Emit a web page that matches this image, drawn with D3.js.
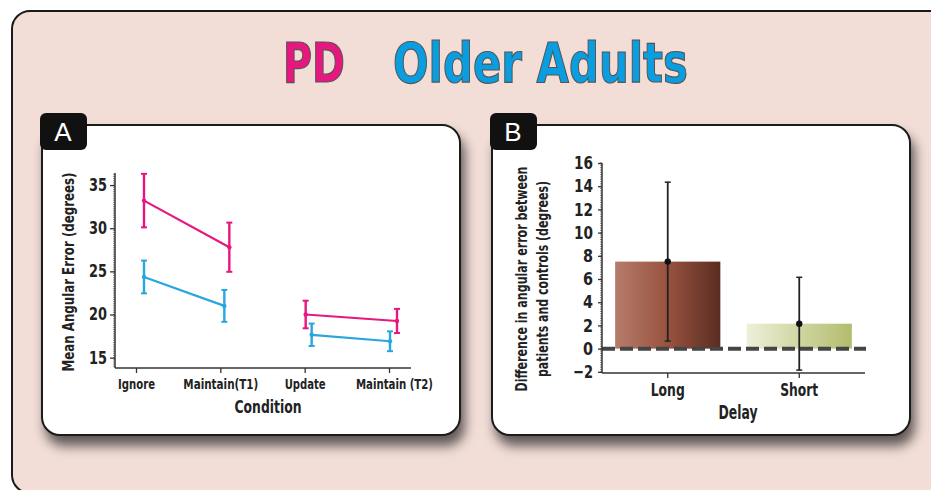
<!DOCTYPE html>
<html>
<head>
<meta charset="utf-8">
<script src="https://cdn.jsdelivr.net/npm/d3@7"></script>
<style>
  body { margin: 0; background: #fff; }
  text { font-family: "Liberation Sans Narrow", "DejaVu Sans Condensed", sans-serif; font-weight: bold; fill: #222; }
</style>
</head>
<body>
<script>
// panel A data
var conditions = ["Ignore", "Maintain(T1)", "Update", "Maintain (T2)"];
var pdMeans = [33.2, 27.8, 20.0, 19.25];
var pdErr = [3.1, 2.85, 1.6, 1.4];
var olderMeans = [24.35, 21.0, 17.65, 16.9];
var olderErr = [1.9, 1.85, 1.3, 1.15];
var yTicksA = [15, 20, 25, 30, 35];

// panel B data
var delays = ["Long", "Short"];
var diffMeans = [7.5, 2.15];
var diffErr = [6.85, 4.0];
var yTicksB = [-2, 0, 2, 4, 6, 8, 10, 12, 14, 16];

var pink = "#e6177f", blue = "#2aa6df";
var width = 931, height = 490;

// rendered widths of the labels in the original (condensed font)
var labelW = {"Ignore": 37, "Maintain(T1)": 75, "Update": 41, "Maintain (T2)": 77, "Long": 34, "Short": 38};

var svg = d3.select("body").append("svg")
    .attr("width", width)
    .attr("height", height);

var defs = svg.append("defs");
var shadow = defs.append("filter").attr("id", "shadow")
    .attr("x", "-10%").attr("y", "-10%").attr("width", "130%").attr("height", "140%");
shadow.append("feDropShadow")
    .attr("dx", 4).attr("dy", 10).attr("stdDeviation", 6)
    .attr("flood-color", "#000").attr("flood-opacity", 0.6);

var gLong = defs.append("linearGradient").attr("id", "gLong");
gLong.append("stop").attr("offset", "0%").attr("stop-color", "#b67c6b");
gLong.append("stop").attr("offset", "50%").attr("stop-color", "#98523f");
gLong.append("stop").attr("offset", "100%").attr("stop-color", "#5a2d21");
var gShort = defs.append("linearGradient").attr("id", "gShort");
gShort.append("stop").attr("offset", "0%").attr("stop-color", "#eef0d9");
gShort.append("stop").attr("offset", "100%").attr("stop-color", "#b3bc6c");

//outer frame
svg.append("rect")
    .attr("x", 12).attr("y", 11).attr("width", 940).attr("height", 482)
    .attr("rx", 18)
    .style("fill", "#f2ddd7")
    .style("stroke", "#1a1a1a")
    .style("stroke-width", 2);

//title
var title = svg.append("g");
title.append("text").attr("x", 283).attr("y", 82)
    .attr("textLength", 62).attr("lengthAdjust", "spacingAndGlyphs")
    .style("font-size", "56px").style("fill", pink)
    .style("stroke", "#555").style("stroke-width", 1.2)
    .text("PD");
title.append("text").attr("x", 393).attr("y", 82)
    .attr("textLength", 295).attr("lengthAdjust", "spacingAndGlyphs")
    .style("font-size", "56px").style("fill", "#0a9ee0")
    .style("stroke", "#555").style("stroke-width", 1.2)
    .text("Older Adults");

function panel(x0, letter){
    svg.append("rect")
        .attr("x", x0).attr("y", 125).attr("width", 418).attr("height", 310)
        .attr("rx", 18)
        .style("fill", "#fff")
        .style("stroke", "#1a1a1a")
        .style("stroke-width", 2)
        .attr("filter", "url(#shadow)");
    svg.append("rect")
        .attr("x", x0 - 2).attr("y", 113).attr("width", 47).attr("height", 37)
        .attr("rx", 6)
        .style("fill", "#111");
    svg.append("text")
        .attr("x", x0 + 21).attr("y", 141)
        .attr("text-anchor", "middle")
        .style("font-family", "'Liberation Sans', sans-serif")
        .style("font-weight", "normal")
        .style("font-size", "26px")
        .style("fill", "#fff")
        .text(letter);
}
panel(42, "A");
panel(492, "B");

// ---------- panel A ----------
var xA = d3.scalePoint().domain(conditions).range([136, 389]);
var yA = d3.scaleLinear().domain([13.8, 36.4]).range([368, 173]);

var gA = svg.append("g");
// minor ticks
gA.selectAll("line.minor")
    .data(d3.range(14, 36.3, 0.25))
    .enter().append("line")
    .attr("x1", 113).attr("x2", 115)
    .attr("y1", d => yA(d)).attr("y2", d => yA(d))
    .style("stroke", "#555").style("stroke-width", 0.7);

var axA = gA.append("g").attr("transform", "translate(115,0)")
    .call(d3.axisLeft(yA).tickValues(yTicksA).tickSize(5).tickSizeOuter(0).tickPadding(3));
axA.selectAll("text").style("font-size", "17px").style("font-family", null)
    .attr("textLength", 18).attr("lengthAdjust", "spacingAndGlyphs");
var axAx = gA.append("g").attr("transform", "translate(0,368)")
    .call(d3.axisBottom(xA).tickSize(5).tickSizeOuter(0).tickPadding(6));
axAx.selectAll("text").style("font-size", "14px").style("font-family", null)
    .attr("textLength", d => labelW[d]).attr("lengthAdjust", "spacingAndGlyphs");
axAx.selectAll(".tick text").filter(d => d == "Maintain (T2)").attr("x", 5);
gA.selectAll(".domain").remove();
gA.selectAll(".tick line").style("stroke", "#333").style("stroke-width", 1.3);
gA.append("line").attr("x1", 115).attr("x2", 115).attr("y1", 173).attr("y2", 368)
    .style("stroke", "#333").style("stroke-width", 1.5);
gA.append("line").attr("x1", 115).attr("x2", 411).attr("y1", 368).attr("y2", 368)
    .style("stroke", "#333").style("stroke-width", 1.5);

gA.append("text")
    .attr("transform", "translate(74,272) rotate(-90)")
    .attr("text-anchor", "middle")
    .attr("textLength", 199).attr("lengthAdjust", "spacingAndGlyphs")
    .style("font-size", "16px")
    .text("Mean Angular Error (degrees)");
gA.append("text")
    .attr("x", 268).attr("y", 413)
    .attr("text-anchor", "middle")
    .attr("textLength", 67).attr("lengthAdjust", "spacingAndGlyphs")
    .style("font-size", "18px")
    .text("Condition");

// small horizontal offsets of the points as in the original figure
var jitter = {pd: [8, 9, 1, 8], older: [8, 4, 7, 1]};

function series(means, errs, color, key){
    var pts = means.map((m, i) => ({x: xA(conditions[i]) + jitter[key][i], y: m, e: errs[i]}));
    var line = d3.line().x(d => d.x).y(d => yA(d.y));
    [pts.slice(0, 2), pts.slice(2, 4)].forEach(seg => {
        gA.append("path").attr("d", line(seg))
            .style("fill", "none").style("stroke", color).style("stroke-width", 2.2);
    });
    var eb = gA.selectAll("g.eb-" + key).data(pts).enter().append("g");
    eb.append("line")
        .attr("x1", d => d.x).attr("x2", d => d.x)
        .attr("y1", d => yA(d.y + d.e)).attr("y2", d => yA(d.y - d.e))
        .style("stroke", color).style("stroke-width", 2.4);
    [1, -1].forEach(s => {
        eb.append("line")
            .attr("x1", d => d.x - 3).attr("x2", d => d.x + 3)
            .attr("y1", d => yA(d.y + s * d.e)).attr("y2", d => yA(d.y + s * d.e))
            .style("stroke", color).style("stroke-width", 2);
    });
    eb.append("circle")
        .attr("cx", d => d.x).attr("cy", d => yA(d.y)).attr("r", 2.2)
        .style("fill", color);
}
series(pdMeans, pdErr, pink, "pd");
series(olderMeans, olderErr, blue, "older");

// ---------- panel B ----------
var xB = d3.scaleBand().domain(delays).range([602, 865]).paddingInner(0.2).paddingOuter(0.1);
var yB = d3.scaleLinear().domain([-2.1, 16]).range([373, 163]);
var gB = svg.append("g");

gB.selectAll("line.minor")
    .data(d3.range(-2, 16.01, 0.2))
    .enter().append("line")
    .attr("x1", 600).attr("x2", 602)
    .attr("y1", d => yB(d)).attr("y2", d => yB(d))
    .style("stroke", "#555").style("stroke-width", 0.7);

gB.selectAll("rect.bar")
    .data(delays)
    .enter().append("rect")
    .attr("x", d => xB(d))
    .attr("width", xB.bandwidth())
    .attr("y", (d, i) => yB(diffMeans[i]))
    .attr("height", (d, i) => yB(0) - yB(diffMeans[i]))
    .style("fill", (d, i) => i == 0 ? "url(#gLong)" : "url(#gShort)");

gB.append("line")
    .attr("x1", 602).attr("x2", 866)
    .attr("y1", yB(0)).attr("y2", yB(0))
    .style("stroke", "#454545").style("stroke-width", 4)
    .style("stroke-dasharray", "13,5");

var axB = gB.append("g").attr("transform", "translate(602,0)")
    .call(d3.axisLeft(yB).tickValues(yTicksB).tickSize(4).tickSizeOuter(0).tickPadding(5)
        .tickFormat(d => d < 0 ? "\u2212" + Math.abs(d) : d));
axB.selectAll("text").style("font-size", "18px").style("font-family", null)
    .attr("textLength", d => Math.abs(d) >= 10 ? 19 : (d < 0 ? 20 : 10))
    .attr("lengthAdjust", "spacingAndGlyphs");
var axBx = gB.append("g").attr("transform", "translate(0,373)")
    .call(d3.axisBottom(xB).tickSize(5).tickSizeOuter(0).tickPadding(5));
axBx.selectAll("text").style("font-size", "18px").style("font-family", null)
    .attr("textLength", d => labelW[d]).attr("lengthAdjust", "spacingAndGlyphs");
gB.selectAll(".domain").remove();
gB.selectAll(".tick line").style("stroke", "#333").style("stroke-width", 1.3);
gB.append("line").attr("x1", 602).attr("x2", 602).attr("y1", 163).attr("y2", 373)
    .style("stroke", "#333").style("stroke-width", 1.5);
gB.append("line").attr("x1", 602).attr("x2", 865).attr("y1", 373).attr("y2", 373)
    .style("stroke", "#333").style("stroke-width", 1.5);

// error bars
var ebB = gB.selectAll("g.ebB").data(delays).enter().append("g");
var cx = d => xB(d) + xB.bandwidth() / 2;
ebB.append("line")
    .attr("x1", cx).attr("x2", cx)
    .attr("y1", (d, i) => yB(diffMeans[i] + diffErr[i]))
    .attr("y2", (d, i) => yB(diffMeans[i] - diffErr[i]))
    .style("stroke", "#222").style("stroke-width", 1.8);
[1, -1].forEach(s => {
    ebB.append("line")
        .attr("x1", d => cx(d) - 3).attr("x2", d => cx(d) + 3)
        .attr("y1", (d, i) => yB(diffMeans[i] + s * diffErr[i]))
        .attr("y2", (d, i) => yB(diffMeans[i] + s * diffErr[i]))
        .style("stroke", "#222").style("stroke-width", 1.5);
});
ebB.append("circle")
    .attr("cx", cx).attr("cy", (d, i) => yB(diffMeans[i])).attr("r", 3.2)
    .style("fill", "#111");

gB.append("text")
    .attr("transform", "translate(527,279) rotate(-90)")
    .attr("text-anchor", "middle")
    .attr("textLength", 225).attr("lengthAdjust", "spacingAndGlyphs")
    .style("font-size", "15px")
    .text("Difference in angular error between");
gB.append("text")
    .attr("transform", "translate(548,279) rotate(-90)")
    .attr("text-anchor", "middle")
    .attr("textLength", 196).attr("lengthAdjust", "spacingAndGlyphs")
    .style("font-size", "15px")
    .text("patients and controls (degrees)");
gB.append("text")
    .attr("x", 738).attr("y", 419)
    .attr("text-anchor", "middle")
    .attr("textLength", 39).attr("lengthAdjust", "spacingAndGlyphs")
    .style("font-size", "19px")
    .text("Delay");
</script>
</body>
</html>
